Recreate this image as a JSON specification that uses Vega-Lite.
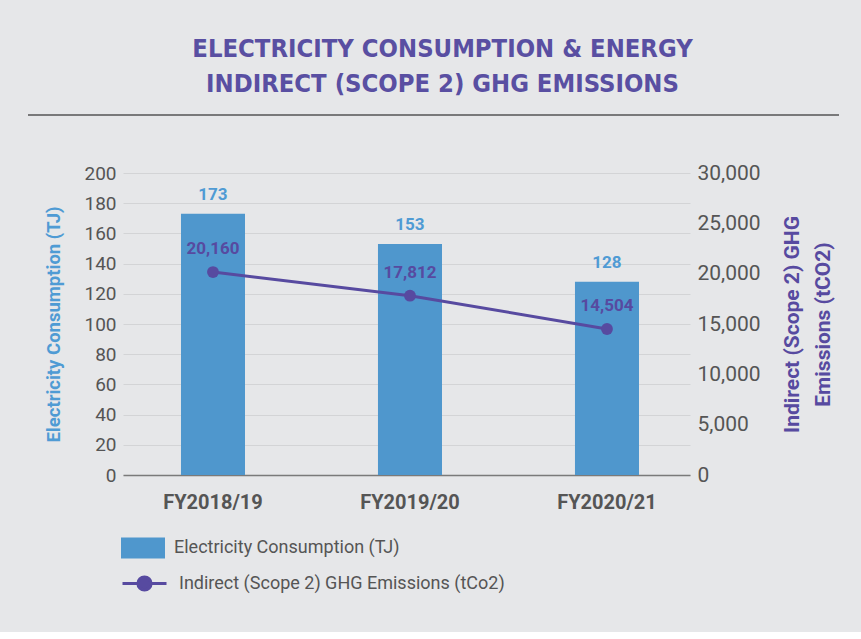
{
  "$schema": "https://vega.github.io/schema/vega-lite/v6.json",
  "background": "#e6e7e9",
  "padding": {"left": 27, "right": 23, "top": 36, "bottom": 35},
  "spacing": 46,
  "config": {
    "view": {"stroke": null},
    "font": "Roboto",
    "axisX": {"labelFontSize": 20, "labelFontWeight": "bold", "labelColor": "#555", "domainColor": "#7a7a7a", "domainWidth": 1.5, "ticks": false, "labelPadding": 17, "labelAngle": 0}
  },
  "vconcat": [
    {
      "width": 567,
      "height": 1,
      "title": {
        "text": ["ELECTRICITY CONSUMPTION & ENERGY", "INDIRECT (SCOPE 2) GHG EMISSIONS"],
        "font": "Liberation Sans Narrow, DejaVu Sans Condensed, Roboto",
        "fontSize": 25.4,
        "fontWeight": "bold",
        "color": "#594fa2",
        "lineHeight": 35,
        "offset": 17,
        "dx": 36,
        "anchor": "middle"
      },
      "data": {"values": [{"sep": 0}]},
      "mark": {"type": "rule", "stroke": "#555555", "strokeWidth": 1.5},
      "encoding": {
        "x": {"datum": 0, "type": "quantitative", "axis": null, "scale": {"domain": [0, 1], "range": [-95, 716]}},
        "x2": {"datum": 1},
        "y": {"field": "sep", "type": "quantitative", "axis": null, "scale": {"domain": [0, 1]}}
      }
    },
    {
      "width": 567,
      "height": 302,
      "data": {"values": [
        {"year": "FY2018/19", "elec": 173, "ghg": 20160},
        {"year": "FY2019/20", "elec": 153, "ghg": 17812},
        {"year": "FY2020/21", "elec": 128, "ghg": 14504}
      ]},
      "layer": [
        {
          "encoding": {
            "x": {"field": "year", "type": "nominal", "scale": {"paddingInner": 0.675, "paddingOuter": 0.2766, "align": 0.532},
              "axis": {"title": null}},
            "y": {"field": "elec", "type": "quantitative", "scale": {"domain": [0, 200]},
              "axis": {"orient": "left", "values": [0,20,40,60,80,100,120,140,160,180,200], "grid": true, "gridColor": "#d3d4d6", "domain": false, "ticks": false,
                "labelFontSize": 19, "labelColor": "#555", "labelPadding": 7,
                "title": "Electricity Consumption (TJ)", "titleColor": "#4f9bd4", "titleFontSize": 18.5, "titleFontWeight": "bold", "titlePadding": 20}}
          },
          "layer": [
            {
              "mark": {"type": "bar"},
              "encoding": {
                "fill": {"datum": "Electricity Consumption (TJ)", "scale": {"range": ["#4f97cd"]},
                  "legend": {"orient": "none", "legendX": -2, "legendY": 353, "title": null, "padding": 0,
                    "symbolType": "M-1,-0.48H1V0.48H-1Z", "symbolSize": 1936, "symbolStrokeWidth": 0, "symbolOpacity": 1,
                    "labelFontSize": 18, "labelColor": "#555", "labelOffset": 9, "labelLimit": 500}}
              }
            },
            {
              "mark": {"type": "text", "baseline": "bottom", "dy": -10, "fontSize": 17, "fontWeight": "bold", "color": "#4f9bd4"},
              "encoding": {"text": {"field": "elec", "type": "quantitative"}}
            }
          ]
        },
        {
          "encoding": {
            "x": {"field": "year", "type": "nominal", "axis": {"title": null}},
            "y": {"field": "ghg", "type": "quantitative", "scale": {"domain": [0, 30000]},
              "axis": {"orient": "right", "values": [0,5000,10000,15000,20000,25000,30000], "labelExpr": "format(datum.value, ',')", "grid": false, "domain": false, "ticks": false,
                "labelFontSize": 21, "labelColor": "#555", "labelPadding": 7,
                "title": ["Indirect (Scope 2) GHG", "Emissions (tCO2)"], "titleAngle": 270, "titleAlign": "center", "titleBaseline": "middle",
                "titleX": 102, "titleY": 151,
                "titleColor": "#574aa0", "titleFontSize": 21, "titleFontWeight": "bold", "titleLineHeight": 31}}
          },
          "layer": [
            {
              "mark": {"type": "line", "strokeWidth": 3},
              "encoding": {
                "stroke": {"datum": "Indirect (Scope 2) GHG Emissions (tCo2)", "scale": {"range": ["#574aa0"]},
                  "legend": {"orient": "none", "legendX": -2, "legendY": 387, "title": null, "padding": 0,
                    "symbolType": "M-1,0H1M-0.3,0A0.3,0.3,0,1,1,0.3,0A0.3,0.3,0,1,1,-0.3,0Z", "symbolSize": 1936, "symbolStrokeWidth": 3, "symbolFillColor": "#574aa0",
                    "labelFontSize": 18, "labelColor": "#555", "labelOffset": 11, "labelLimit": 500}}
              }
            },
            {
              "mark": {"type": "point", "filled": true, "size": 140, "opacity": 1, "color": "#574aa0"}
            },
            {
              "mark": {"type": "text", "baseline": "bottom", "dy": -14, "fontSize": 17, "fontWeight": "bold", "color": "#574aa0"},
              "encoding": {"text": {"field": "ghg", "type": "quantitative", "format": ","}}
            }
          ]
        }
      ],
      "resolve": {"scale": {"y": "independent", "fill": "independent", "stroke": "independent"}}
    }
  ]
}
